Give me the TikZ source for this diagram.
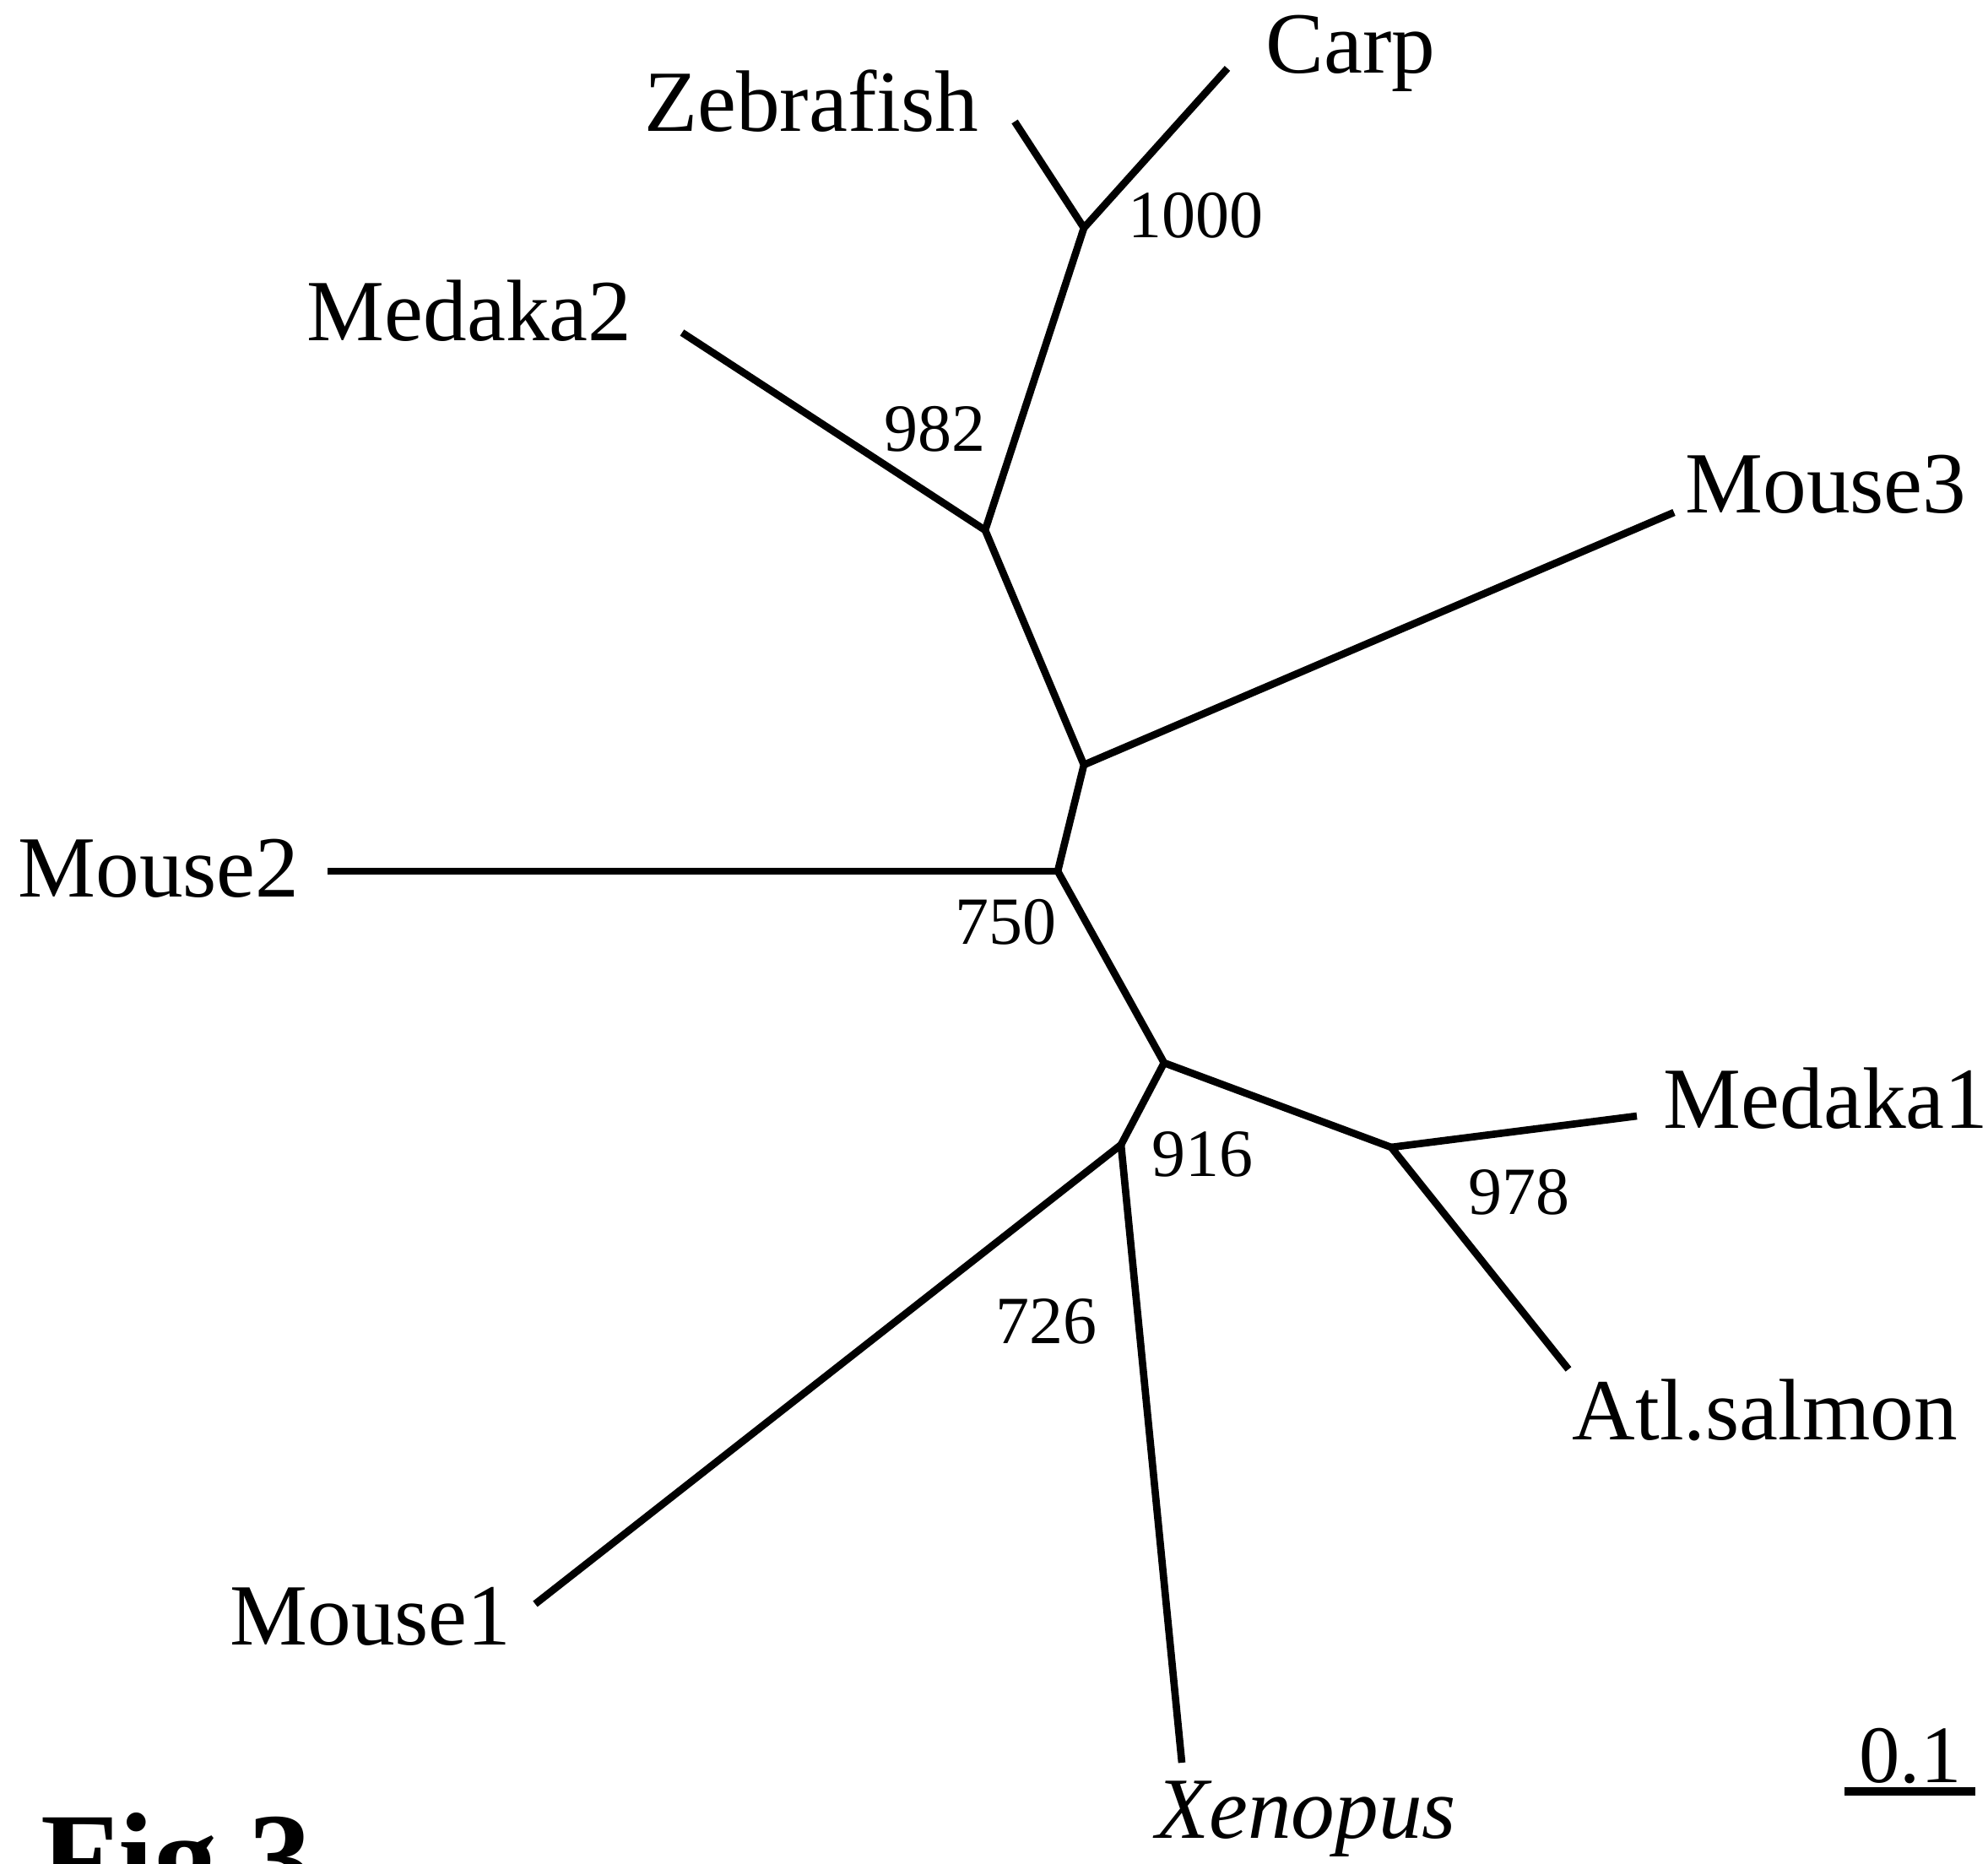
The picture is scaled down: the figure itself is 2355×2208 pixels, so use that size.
\documentclass[tikz,border=0pt]{standalone}
\usepackage{fontspec}
\setmainfont{Liberation Serif}
\usepackage{tikz}
\usetikzlibrary{calc}
\tikzset{
	branch/.style={line width=2.6pt, line cap=butt, line join=round},
	taxon/.style={inner sep=0pt, font=\fontsize{31}{36}\selectfont},
	boot/.style={inner sep=0pt, font=\fontsize{24}{28}\selectfont},
}

\begin{document}
\begin{tikzpicture}[x=0.3pt, y=-0.3pt]
\useasboundingbox (0,0) rectangle (2355,2208);

% Internal nodes
\coordinate (n750) at (1253,1032);
\coordinate (nM3) at (1284,906);
\coordinate (n982) at (1167,628);
\coordinate (n1000) at (1284,270);
\coordinate (n916) at (1379,1259);
\coordinate (n978) at (1648,1359);
\coordinate (n726) at (1328,1356);

% Tips
\coordinate (tZebrafish) at (1202,144);
\coordinate (tCarp) at (1454,81);
\coordinate (tMedakaB) at (808,394);
\coordinate (tMouseC) at (1983,607);
\coordinate (tMouseB) at (388,1032);
\coordinate (tMedakaA) at (1939,1322);
\coordinate (tSalmon) at (1858,1622);
\coordinate (tMouseA) at (634,1900);
\coordinate (tXenopus) at (1400,2088);

% Draw branches
\draw[branch] (tMouseB) -- (n750);
\draw[branch] (n750) -- (nM3) -- (n982) -- (n1000);
\draw[branch] (nM3) -- (tMouseC);
\draw[branch] (n982) -- (tMedakaB);
\draw[branch] (tZebrafish) -- (n1000) -- (tCarp);
\draw[branch] (n750) -- (n916) -- (n978);
\draw[branch] (tMedakaA) -- (n978) -- (tSalmon);
\draw[branch] (n916) -- (n726);
\draw[branch] (tMouseA) -- (n726) -- (tXenopus);

% Taxon labels
\node[taxon] (lCarp) at (1600,63) {Carp};
\node[taxon] (lZebrafish) at (961,120) {Zebrafish};
\node[taxon] (lMedakaB) at (556,368) {Medaka2};
\node[taxon] (lMouseC) at (2163,574) {Mouse3};
\node[taxon] (lMouseB) at (188,1029) {Mouse2};
\node[taxon] (lMedakaA) at (2163,1301) {Medaka1};
\node[taxon] (lSalmon) at (2091,1670) {Atl.salmon};
\node[taxon] (lMouseA) at (439,1915) {Mouse1};
\node[taxon] (lXenopus) at (1547,2155) {\textit{Xenopus}};

% Bootstrap values
\node[boot] (b1000) at (1416,255) {1000};
\node[boot] (b982) at (1107,508) {982};
\node[boot] (b750) at (1191,1092) {750};
\node[boot] (b916) at (1424,1367) {916};
\node[boot] (b978) at (1799,1412) {978};
\node[boot] (b726) at (1239,1565) {726};

% Scale bar
\node[boot, font=\fontsize{29}{34}\selectfont] (scale) at (2263,2080) {0.1};
\coordinate (sbL) at (2185,2122);
\coordinate (sbR) at (2340,2122);
\draw[line width=3pt] (sbL) -- (sbR);

% Figure tag
\node[anchor=base west, inner sep=0pt, font=\fontsize{45}{50}\selectfont\bfseries] (fig) at (48,2251) {Fig.3};
\end{tikzpicture}
\end{document}
